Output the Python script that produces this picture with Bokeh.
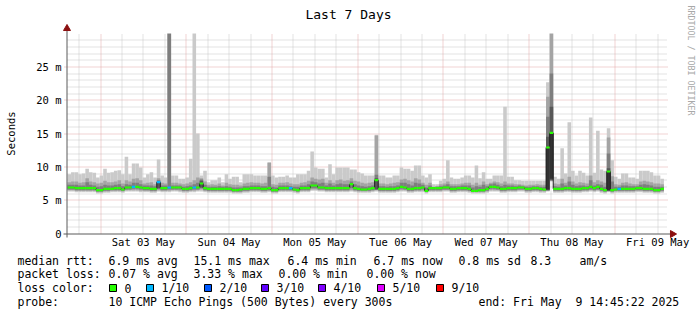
import math
import datetime as dt
from bokeh.plotting import figure
from bokeh.models import Range1d
from bokeh.core.properties import value
from bokeh.embed import file_html
from bokeh.resources import INLINE

# ---------------- data ----------------
TITLE = "Last 7 Days"
Y_LABEL = "Seconds"
WATERMARK = "RRDTOOL / TOBI OETIKER"
END = dt.datetime(2025, 5, 9, 14, 45, 22)
SPAN_DAYS = 7

y_ticks = [0, 5, 10, 15, 20, 25]
y_tick_labels = ["0", "5 m", "10 m", "15 m", "20 m", "25 m"]
y_max = 30.0

# hourly values in ms (one entry per hour from the start of the window)
mx = [8.9, 9.2, 9.2, 8.9, 9.0, 9.7, 9.2, 9.1, 8.4, 8.7,
      9.7, 9.1, 9.2, 9.4, 9.5, 8.9, 11.5, 8.9, 10.5, 10.5,
      9.9, 8.4, 8.9, 9.2, 8.4, 11.1, 8.7, 8.4, 32.0, 8.7,
      8.7, 8.2, 8.2, 8.4, 11.2, 32.0, 15.0, 8.7, 9.4, 7.7,
      8.0, 8.0, 8.4, 7.7, 8.9, 8.2, 8.5, 8.5, 7.7, 8.9,
      8.9, 8.9, 8.7, 8.7, 8.7, 8.7, 10.7, 8.7, 8.4, 8.5,
      8.5, 8.7, 8.4, 8.4, 8.9, 8.9, 8.9, 9.4, 12.3, 9.9,
      9.7, 9.7, 8.4, 10.4, 8.9, 9.9, 9.9, 9.9, 9.9, 9.6,
      9.6, 9.2, 9.0, 8.7, 8.7, 8.7, 14.8, 8.7, 8.7, 8.4,
      8.4, 8.7, 8.7, 9.9, 9.7, 9.7, 9.4, 10.2, 10.2, 8.7,
      8.4, 8.9, 7.4, 7.4, 7.9, 8.2, 11.0, 8.4, 8.2, 8.2,
      8.4, 8.7, 8.7, 8.4, 10.2, 8.3, 9.2, 8.2, 8.2, 8.7,
      8.7, 8.7, 19.0, 8.5, 8.5, 8.0, 8.0, 7.9, 7.9, 7.9,
      7.9, 7.9, 7.9, 7.9, 22.7, 32.0, 8.5, 8.2, 12.8, 9.0,
      16.7, 9.4, 8.7, 9.4, 9.1, 8.7, 17.4, 9.1, 15.4, 9.6,
      9.4, 15.8, 11.0, 8.5, 8.2, 9.0, 9.0, 8.4, 8.4, 8.2,
      9.4, 9.4, 9.4, 9.2, 8.7, 8.7, 8.2]

q9 = [7.7, 7.8, 7.8, 7.6, 7.7, 8.3, 7.8, 7.7, 7.5, 7.6,
      7.9, 7.7, 7.7, 7.8, 8.0, 7.5, 8.0, 7.8, 8.2, 8.3,
      8.0, 7.5, 7.6, 7.7, 7.4, 8.3, 7.6, 7.5, 32.0, 7.6,
      7.6, 7.5, 7.4, 7.5, 7.7, 8.0, 8.4, 8.3, 7.8, 7.3,
      7.4, 7.3, 7.5, 7.2, 7.6, 7.4, 7.3, 7.3, 7.2, 7.5,
      7.6, 7.7, 7.6, 7.6, 7.5, 7.6, 10.6, 7.4, 7.3, 7.6,
      7.6, 7.7, 7.5, 7.4, 7.4, 7.6, 7.7, 7.9, 8.4, 8.2,
      8.1, 8.2, 7.6, 8.0, 7.6, 8.0, 8.1, 7.9, 8.0, 8.3,
      7.9, 7.8, 7.6, 7.5, 7.6, 7.7, 14.7, 7.5, 7.5, 7.4,
      7.5, 7.6, 7.7, 8.1, 8.2, 8.0, 7.8, 8.3, 8.1, 7.6,
      7.3, 7.6, 7.0, 7.1, 7.4, 7.5, 7.8, 7.4, 7.4, 7.4,
      7.5, 7.6, 7.6, 7.3, 7.6, 7.3, 7.8, 7.4, 7.6, 7.8,
      7.7, 7.5, 7.8, 7.5, 7.5, 7.4, 7.4, 7.3, 7.2, 7.3,
      7.3, 7.4, 7.3, 7.3, 20.5, 32.0, 7.5, 7.4, 8.2, 7.6,
      8.5, 7.8, 7.5, 7.7, 7.6, 7.5, 8.7, 7.7, 8.0, 7.8,
      7.6, 14.4, 8.6, 7.4, 7.3, 7.6, 7.7, 7.5, 7.4, 7.4,
      7.8, 7.9, 7.8, 7.7, 7.5, 7.5, 7.4]

q8 = [7.3, 7.3, 7.3, 7.2, 7.2, 7.7, 7.3, 7.2, 7.0, 7.1,
      7.3, 7.2, 7.2, 7.3, 7.4, 7.1, 7.4, 7.3, 7.6, 7.6,
      7.4, 7.2, 7.2, 7.2, 7.1, 8.0, 7.2, 7.2, 32.0, 7.2,
      7.2, 7.2, 7.0, 7.1, 7.2, 7.4, 7.6, 8.1, 7.3, 7.0,
      7.0, 7.0, 7.1, 7.0, 7.1, 7.0, 6.9, 6.9, 6.9, 7.1,
      7.1, 7.2, 7.2, 7.2, 7.1, 7.1, 8.5, 7.0, 6.9, 7.2,
      7.2, 7.2, 7.1, 7.0, 7.0, 7.2, 7.2, 7.4, 7.8, 7.7,
      7.5, 7.6, 7.2, 7.5, 7.2, 7.4, 7.5, 7.4, 7.4, 7.8,
      7.4, 7.2, 7.1, 7.0, 7.1, 7.2, 8.8, 7.1, 7.1, 7.0,
      7.1, 7.1, 7.2, 7.6, 7.6, 7.4, 7.2, 7.6, 7.5, 7.3,
      6.9, 7.2, 6.9, 7.0, 7.1, 7.2, 7.4, 7.1, 7.1, 7.1,
      7.2, 7.2, 7.2, 6.9, 7.1, 7.0, 7.3, 7.1, 7.4, 7.5,
      7.3, 7.1, 7.3, 7.2, 7.2, 7.1, 7.2, 7.1, 7.0, 7.0,
      7.1, 7.1, 7.0, 7.0, 17.5, 24.0, 7.1, 7.0, 7.5, 7.2,
      7.8, 7.3, 7.1, 7.2, 7.2, 7.1, 8.0, 7.2, 7.4, 7.3,
      7.0, 12.0, 7.8, 7.0, 7.0, 7.2, 7.2, 7.1, 7.1, 7.1,
      7.3, 7.4, 7.3, 7.2, 7.0, 7.0, 7.0]

md = [6.9, 6.9, 6.8, 6.8, 6.8, 6.8, 6.8, 6.8, 6.5, 6.5,
      6.7, 6.7, 6.7, 6.8, 6.8, 6.6, 6.9, 6.9, 7.0, 7.0,
      6.9, 6.8, 6.8, 6.7, 6.7, 7.7, 6.8, 6.8, 6.9, 6.9,
      6.9, 6.9, 6.7, 6.7, 6.8, 6.9, 6.9, 7.5, 6.8, 6.7,
      6.7, 6.7, 6.7, 6.7, 6.7, 6.7, 6.5, 6.5, 6.6, 6.7,
      6.7, 6.8, 6.8, 6.8, 6.7, 6.7, 6.8, 6.5, 6.5, 6.8,
      6.8, 6.8, 6.8, 6.6, 6.5, 6.8, 6.8, 6.8, 7.2, 7.2,
      6.9, 6.9, 6.8, 6.8, 6.8, 6.8, 6.8, 6.8, 6.8, 7.4,
      6.8, 6.7, 6.6, 6.6, 6.7, 6.8, 8.0, 6.7, 6.7, 6.7,
      6.7, 6.7, 6.8, 7.0, 6.9, 6.7, 6.7, 6.8, 6.8, 6.9,
      6.4, 6.8, 6.8, 6.8, 6.8, 6.9, 6.9, 6.7, 6.7, 6.8,
      6.8, 6.8, 6.7, 6.4, 6.4, 6.5, 6.5, 6.7, 7.0, 7.0,
      6.9, 6.7, 6.7, 6.8, 6.8, 6.8, 6.9, 6.9, 6.7, 6.7,
      6.8, 6.8, 6.7, 6.6, 12.9, 15.1, 6.7, 6.7, 6.7, 6.8,
      6.8, 6.7, 6.7, 6.7, 6.8, 6.8, 7.0, 6.8, 7.0, 6.7,
      6.5, 9.3, 6.5, 6.6, 6.7, 6.7, 6.7, 6.7, 6.7, 6.8,
      6.8, 6.7, 6.7, 6.7, 6.5, 6.5, 6.7]

q3 = [6.6, 6.6, 6.5, 6.5, 6.5, 6.5, 6.5, 6.5, 6.3, 6.3,
      6.4, 6.4, 6.5, 6.5, 6.5, 6.4, 6.6, 6.6, 6.7, 6.7,
      6.6, 6.5, 6.5, 6.4, 6.4, 6.7, 6.5, 6.5, 6.6, 6.6,
      6.6, 6.6, 6.4, 6.4, 6.5, 6.6, 6.6, 6.8, 6.5, 6.4,
      6.4, 6.4, 6.4, 6.4, 6.4, 6.4, 6.3, 6.3, 6.3, 6.4,
      6.4, 6.5, 6.5, 6.5, 6.4, 6.4, 6.5, 6.3, 6.3, 6.5,
      6.5, 6.5, 6.5, 6.4, 6.3, 6.5, 6.5, 6.5, 6.8, 6.8,
      6.6, 6.6, 6.5, 6.5, 6.5, 6.5, 6.5, 6.5, 6.5, 6.8,
      6.5, 6.4, 6.4, 6.4, 6.4, 6.5, 6.6, 6.4, 6.4, 6.4,
      6.4, 6.4, 6.5, 6.7, 6.6, 6.4, 6.4, 6.5, 6.5, 6.6,
      6.3, 6.5, 6.5, 6.5, 6.5, 6.6, 6.6, 6.4, 6.4, 6.5,
      6.5, 6.5, 6.4, 6.3, 6.3, 6.3, 6.3, 6.4, 6.7, 6.7,
      6.6, 6.4, 6.4, 6.5, 6.5, 6.5, 6.6, 6.6, 6.4, 6.4,
      6.5, 6.5, 6.4, 6.4, 6.5, 8.0, 6.4, 6.4, 6.4, 6.5,
      6.5, 6.4, 6.4, 6.4, 6.5, 6.5, 6.6, 6.5, 6.6, 6.4,
      6.3, 6.4, 6.3, 6.4, 6.4, 6.4, 6.4, 6.4, 6.4, 6.5,
      6.5, 6.4, 6.4, 6.4, 6.3, 6.3, 6.4]

q2 = [6.5, 6.5, 6.4, 6.4, 6.4, 6.4, 6.4, 6.4, 6.2, 6.2,
      6.3, 6.3, 6.4, 6.4, 6.4, 6.3, 6.5, 6.5, 6.5, 6.5,
      6.4, 6.4, 6.4, 6.3, 6.3, 6.5, 6.4, 6.4, 6.4, 6.5,
      6.5, 6.4, 6.3, 6.3, 6.4, 6.4, 6.5, 6.6, 6.4, 6.3,
      6.3, 6.3, 6.3, 6.3, 6.3, 6.3, 6.2, 6.2, 6.2, 6.3,
      6.3, 6.4, 6.4, 6.4, 6.3, 6.3, 6.4, 6.2, 6.2, 6.4,
      6.4, 6.4, 6.4, 6.3, 6.2, 6.4, 6.4, 6.4, 6.6, 6.6,
      6.5, 6.5, 6.4, 6.4, 6.4, 6.4, 6.4, 6.4, 6.4, 6.5,
      6.4, 6.3, 6.3, 6.3, 6.3, 6.4, 6.5, 6.3, 6.3, 6.3,
      6.3, 6.3, 6.4, 6.5, 6.5, 6.3, 6.3, 6.4, 6.4, 6.4,
      6.2, 6.4, 6.4, 6.4, 6.4, 6.5, 6.5, 6.3, 6.3, 6.4,
      6.4, 6.4, 6.3, 6.2, 6.2, 6.2, 6.2, 6.3, 6.5, 6.5,
      6.5, 6.3, 6.3, 6.4, 6.4, 6.4, 6.5, 6.5, 6.3, 6.3,
      6.4, 6.4, 6.3, 6.3, 6.4, 7.9, 6.3, 6.3, 6.3, 6.4,
      6.4, 6.3, 6.3, 6.3, 6.4, 6.4, 6.5, 6.4, 6.5, 6.3,
      6.2, 6.3, 6.2, 6.3, 6.3, 6.3, 6.3, 6.3, 6.3, 6.4,
      6.4, 6.3, 6.3, 6.3, 6.2, 6.2, 6.3]

mn = [6.3, 6.3, 6.2, 6.2, 6.2, 6.2, 6.2, 6.2, 6.0, 6.0,
      6.1, 6.1, 6.2, 6.2, 6.2, 6.1, 6.3, 6.3, 6.3, 6.3,
      6.2, 6.2, 6.2, 6.1, 6.1, 6.3, 6.2, 6.2, 6.2, 6.3,
      6.3, 6.2, 6.1, 6.1, 6.2, 6.2, 6.3, 6.3, 6.2, 6.1,
      6.1, 6.1, 6.1, 6.1, 6.1, 6.1, 6.0, 6.0, 6.0, 6.1,
      6.1, 6.2, 6.2, 6.2, 6.1, 6.1, 6.2, 6.0, 6.0, 6.2,
      6.2, 6.2, 6.2, 6.1, 6.0, 6.2, 6.2, 6.2, 6.4, 6.4,
      6.3, 6.3, 6.2, 6.2, 6.2, 6.2, 6.2, 6.2, 6.2, 6.3,
      6.2, 6.1, 6.1, 6.1, 6.1, 6.2, 6.3, 6.1, 6.1, 6.1,
      6.1, 6.1, 6.2, 6.3, 6.3, 6.1, 6.1, 6.2, 6.2, 6.2,
      6.0, 6.2, 6.2, 6.2, 6.2, 6.3, 6.3, 6.1, 6.1, 6.2,
      6.2, 6.2, 6.1, 6.0, 6.0, 6.0, 6.0, 6.1, 6.3, 6.3,
      6.3, 6.1, 6.1, 6.2, 6.2, 6.2, 6.3, 6.3, 6.1, 6.1,
      6.2, 6.2, 6.1, 6.1, 6.3, 7.8, 6.1, 6.1, 6.1, 6.2,
      6.2, 6.1, 6.1, 6.1, 6.2, 6.2, 6.3, 6.2, 6.3, 6.1,
      6.0, 6.2, 6.0, 6.1, 6.1, 6.1, 6.1, 6.1, 6.1, 6.2,
      6.2, 6.1, 6.1, 6.1, 6.0, 6.0, 6.1]

# darker inner smoke, only where it shows outside the median band
dark_bins = [25, 37, 86, 134, 135, 151]
dark_lo = [6.8, 6.9, 6.6, 6.5, 8.0, 6.4]
dark_hi = [7.8, 7.9, 8.3, 14.5, 19.0, 9.8]
core_bins = [134, 135, 151]
core_lo = [6.6, 8.2, 6.5]
core_hi = [12.8, 15.0, 9.3]

# packet loss per hour (index into loss_levels), only non-zero hours listed
loss_bins = [18, 25, 28, 35, 62, 154]
loss_bucket = [1, 1, 1, 1, 1, 1]
loss_levels = ["0", "1/10", "2/10", "3/10", "4/10", "5/10", "9/10"]
loss_colors = ["#26ff00", "#00b8ff", "#0059ff", "#5e00ff", "#7e00ff", "#dd00ff", "#ff0000"]

rtt_stats = ["6.9 ms avg", "15.1 ms max", "6.4 ms min", "6.7 ms now", "0.8 ms sd", "8.3", "am/s"]
loss_stats = ["0.07 % avg", "3.33 % max", "0.00 % min", "0.00 % now"]
probe_text = "10 ICMP Echo Pings (500 Bytes) every 300s"
# second space of the padded day is a no-break space so the SVG keeps the gap
end_text = "end: Fri May \u00a09 14:45:22 2025"

N = len(md)
for arr in (mx, q9, q8, q3, q2, mn):
    assert len(arr) == N, len(arr)

# ---------------- layout ----------------
W, H = 697, 315
FL, FR, FT, FB = 67, 667, 33, 233          # graph area in page pixels
FONT = "DejaVu Sans Mono"
EPOCH = dt.datetime(1970, 1, 1)


def ms(t):
    return (t - EPOCH).total_seconds() * 1000.0


START = END - dt.timedelta(days=SPAN_DAYS)
xs, xe = ms(START), ms(END)
HOUR = 3600000.0


def X(px):
    return xs + (px - FL) / (FR - FL) * (xe - xs)


def Y(py):
    return (FB - py) / (FB - FT) * y_max


def snapx(v):   # put a 1px rule on a pixel centre
    px = FL + (v - xs) / (xe - xs) * (FR - FL)
    return X(math.floor(px) + 0.5)


def snapy(v):
    py = FB - v / y_max * (FB - FT)
    return Y(math.floor(py) + 0.5)


lefts = [xs + i * HOUR for i in range(N)]
rights = [xs + (i + 1) * HOUR for i in range(N)]

p = figure(width=W, height=H, x_range=Range1d(X(0), X(W)), y_range=Range1d(Y(H), Y(0)),
           output_backend="svg", toolbar_location=None,
           x_axis_location=None, y_axis_location=None, min_border=0)
p.outline_line_color = None
p.background_fill_color = "white"
p.border_fill_color = "white"
p.xgrid.visible = False
p.ygrid.visible = False

# time grid: midnights (major), every 6 h (minor), day labels at noon
first_mid = dt.datetime(START.year, START.month, START.day) + dt.timedelta(days=1)
mids = [ms(first_mid + dt.timedelta(days=k)) for k in range(SPAN_DAYS)]
six = []
t = dt.datetime(START.year, START.month, START.day)
while t <= END:
    if START <= t and t.hour != 0:
        six.append(ms(t))
    t += dt.timedelta(hours=6)
noon_times = [first_mid + dt.timedelta(days=k, hours=12) for k in range(SPAN_DAYS)]
noons = [ms(tt) for tt in noon_times]
day_labels = [tt.strftime("%a %d %b") for tt in noon_times]

GRID = "#c6c6c6"
MGRID = "#e2a6a6"
y_minor = [v for v in range(1, int(y_max)) if v % 5]
y_major = [v for v in y_ticks if v > 0]
sx6 = [snapx(v) for v in six]
sxm = [snapx(v) for v in mids]
sy_min = [snapy(v) for v in y_minor]
sy_maj = [snapy(v) for v in y_major]
p.segment(x0=sx6, x1=sx6, y0=[0] * len(six), y1=[y_max] * len(six),
          line_color=GRID, line_width=1, line_dash="1 1")
p.segment(x0=[X(FL)] * len(y_minor), x1=[X(FR)] * len(y_minor), y0=sy_min, y1=sy_min,
          line_color=GRID, line_width=1, line_dash="1 1")
p.segment(x0=sxm, x1=sxm, y0=[0] * len(mids), y1=[y_max] * len(mids),
          line_color=MGRID, line_width=1, line_dash="1 1")
p.segment(x0=[X(FL - 3)] * len(y_major), x1=[X(FR + 1)] * len(y_major), y0=sy_maj, y1=sy_maj,
          line_color=MGRID, line_width=1, line_dash="1 1")

# smoke bands
p.quad(left=lefts, right=rights, bottom=mn, top=mx, fill_color="#cacaca", line_color=None)
p.quad(left=lefts, right=rights, bottom=q2, top=q9, fill_color="#a4a4a4", line_color=None)
p.quad(left=lefts, right=rights, bottom=q3, top=q8, fill_color="#7e7e7e", line_color=None)
p.quad(left=[lefts[i] for i in dark_bins], right=[rights[i] for i in dark_bins],
       bottom=dark_lo, top=dark_hi, fill_color="#585858", line_color=None)
p.quad(left=[lefts[i] for i in core_bins], right=[rights[i] for i in core_bins],
       bottom=core_lo, top=core_hi, fill_color="#323232", line_color=None)

# smoke above the top of the graph is cut at the graph edge
p.quad(left=[X(FL)], right=[X(FR + 1)], bottom=[y_max], top=[Y(0)],
       fill_color="white", line_color=None)

# median: dark connectors + loss coloured band
p.segment(x0=rights[:-1], y0=md[:-1], x1=rights[:-1], y1=md[1:], line_color="#202020", line_width=1)
bucket = [0] * N
for b, l in zip(loss_bins, loss_bucket):
    bucket[b] = l
SW = 0.16
p.quad(left=lefts, right=rights, bottom=[v - SW for v in md], top=[v + SW for v in md],
       fill_color=[loss_colors[b] for b in bucket], line_color=None)

# axes with arrows
AX = "#5a5a5a"
ARROW = "#8b1010"
ax_x = X(FL - 0.5)
ax_y = Y(FB + 0.5)
p.segment(x0=[ax_x], y0=[Y(FB + 4)], x1=[ax_x], y1=[Y(FT - 3)], line_color=AX, line_width=1)
p.segment(x0=[X(FL - 4)], y0=[ax_y], x1=[X(FR + 3)], y1=[ax_y], line_color=AX, line_width=1)
p.scatter(x=[ax_x], y=[Y(FT - 5)], marker="triangle", size=7, angle=0.0,
          fill_color=ARROW, line_color=ARROW)
p.scatter(x=[X(FR + 5)], y=[ax_y], marker="triangle", size=7, angle=-math.pi / 2,
          fill_color=ARROW, line_color=ARROW)

# tick labels
p.text(x=[X(61)] * len(y_ticks), y=y_ticks, text=y_tick_labels, text_font=value(FONT),
       text_font_size=value("10.5px"), text_align="right", text_baseline="middle", text_color="black")
p.text(x=noons, y=[Y(241.5)] * len(noons), text=day_labels, text_font=value(FONT),
       text_font_size=value("10.5px"), text_align="center", text_baseline="middle", text_color="black")


def lab(px, py, text, size="11.5px", align="left", angle=0.0, color="black"):
    p.text(x=[X(px)], y=[Y(py)], text=[text], text_font=value(FONT), text_font_size=value(size),
           text_align=align, text_baseline="middle", angle=angle, text_color=color)


lab(348, 14, TITLE, size="13px", align="center")
lab(10, 133, Y_LABEL, size="10.5px", align="center", angle=math.pi / 2)
lab(690, 5, WATERMARK, size="8.3px", angle=-math.pi / 2, color="#a8a8a8")

r1 = 260
lab(17, r1, "median rtt:")
for px, s in zip([108, 193, 287, 373, 458, 530, 579], rtt_stats):
    lab(px, r1, s)
r2 = 273.5
lab(17, r2, "packet loss:")
for px, s in zip([108, 193, 278, 366], loss_stats):
    lab(px, r2, s)
r3 = 287.5
lab(17, r3, "loss color:")
box_x = [109, 146, 204, 261, 318, 377, 436]
p.quad(left=[X(b) for b in box_x], right=[X(b + 7) for b in box_x],
       bottom=[Y(r3 + 3.5)] * len(box_x), top=[Y(r3 - 3.5)] * len(box_x),
       fill_color=loss_colors, line_color="black", line_width=1)
for bx, s in zip(box_x, loss_levels):
    lab(bx + 15, r3, s)
r4 = 301.5
lab(17, r4, "probe:")
lab(108, r4, probe_text)
lab(478, r4, end_text)

open("out.html", "w").write(file_html(p, INLINE))
